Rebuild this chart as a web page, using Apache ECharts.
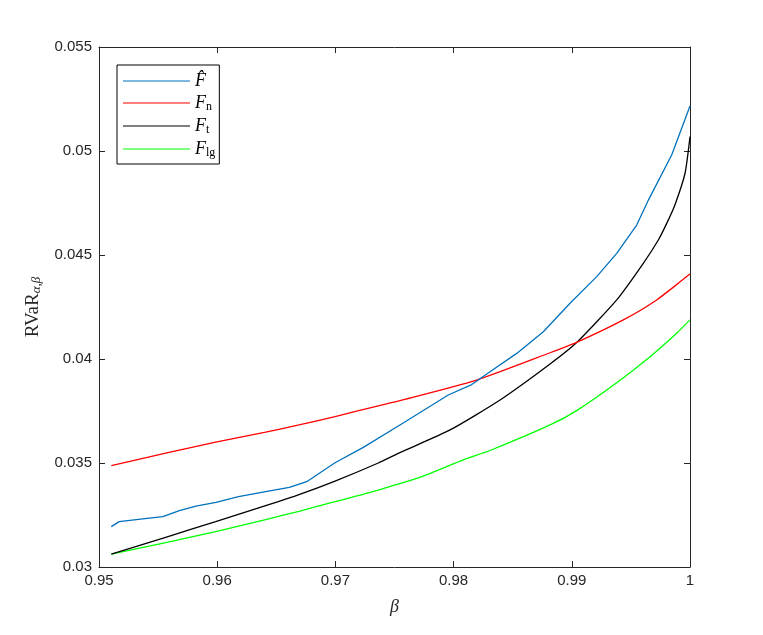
<!DOCTYPE html>
<html>
<head>
<meta charset="utf-8">
<script src="https://cdn.jsdelivr.net/npm/echarts@6/dist/echarts.min.js"></script>
<style>html,body{margin:0;padding:0;background:#fff;}#c{width:763px;height:635px;}</style>
</head>
<body>
<div id="c"></div>
<script>
var seriesNames = ['Fhat', 'Fn', 'Ft', 'Flg'];
var xTicks = [0.95, 0.96, 0.97, 0.98, 0.99, 1];
var yTicks = [0.03, 0.035, 0.04, 0.045, 0.05, 0.055];

var fHat = [
  [0.95104,0.03194],[0.9517,0.03218],[0.9537,0.03231],[0.9554,0.03242],[0.9568,0.03271],
  [0.9582,0.03293],[0.9599,0.03311],[0.9618,0.03338],[0.9641,0.03362],[0.9661,0.03383],
  [0.96757,0.0341],[0.96997,0.03501],[0.97236,0.03575],[0.97546,0.03683],[0.97955,0.03827],
  [0.98153,0.03877],[0.98308,0.03939],[0.98534,0.04027],[0.98759,0.04131],
  [0.98985,0.04268],[0.99211,0.04396],[0.9938,0.04508],[0.99549,0.04644],[0.99648,0.04764],
  [0.99845,0.04981],[1.0,0.05216]
];
var fN = [
  [0.95104,0.03487],[0.95564,0.03548],[0.95987,0.036],[0.9641,0.03648],[0.96692,0.03683],
  [0.96997,0.03723],[0.97363,0.03775],[0.97546,0.038],[0.98181,0.03896],[0.98816,0.0403],
  [0.99041,0.0408],[0.99436,0.04188],[0.99718,0.04284],[1.0,0.04409]
];
var fT = [
  [0.95104,0.03062],[0.95564,0.03143],[0.95987,0.03218],[0.9641,0.03295],[0.96692,0.03348],
  [0.96997,0.03413],[0.97363,0.035],[0.97546,0.0355],[0.9797,0.03659],[0.98393,0.03803],
  [0.98816,0.03976],[0.99041,0.04079],[0.9938,0.04284],[0.99605,0.0446],[0.99732,0.04572],
  [0.99803,0.04652],[0.99873,0.04742],[0.99958,0.04893],[1.0,0.05069]
];
var fLg = [
  [0.95104,0.03062],[0.95564,0.03117],[0.95987,0.0317],[0.9641,0.03228],[0.96692,0.03268],
  [0.96997,0.03314],[0.97363,0.0337],[0.9773,0.03434],[0.98082,0.03515],[0.98308,0.0356],
  [0.98816,0.03683],[0.99041,0.03752],[0.9938,0.03886],[0.99662,0.04011],[0.99887,0.04124],
  [1.0,0.04188]
];

var colors = ['#0072BD', '#FF0000', '#000000', '#00FF00'];
var dataSets = [fHat, fN, fT, fLg];
var smoothFlags = [false, 0.2, 0.2, 0.2];

var legendLabels = {
  Fhat: '{i|F\u0302}',
  Fn: '{i|F}{s|n}',
  Ft: '{i|F}{s|t}',
  Flg: '{i|F}{s|lg}'
};

function fmt(v) { return String(parseFloat(v.toFixed(4))); }

var axisColor = '#262626';
var serif = '"Liberation Serif", "DejaVu Serif", serif';
var sans = '"Liberation Sans", Arial, Helvetica, sans-serif';

var chart = echarts.init(document.getElementById('c'), null, {renderer: 'canvas'});
var option = {
  animation: false,
  backgroundColor: '#ffffff',
  grid: {left: 99, right: 73, top: 47, bottom: 68, containLabel: false},
  legend: {
    data: seriesNames,
    orient: 'vertical',
    left: 117, top: 65,
    padding: [7, 4, 5, 6],
    itemGap: 4,
    itemWidth: 67, itemHeight: 19,
    backgroundColor: '#ffffff',
    borderColor: '#000000',
    borderWidth: 1,
    borderRadius: 0,
    icon: 'path://M0,9 L67,9 L67,10 L0,10 Z',
    formatter: function (n) { return legendLabels[n]; },
    textStyle: {
      color: '#000',
      rich: {
        i: {fontFamily: serif, fontStyle: 'italic', fontSize: 18, color: '#000'},
        s: {fontFamily: serif, fontSize: 12, color: '#000', verticalAlign: 'bottom', padding: [8, 0, 0, 0]}
      }
    }
  },
  xAxis: [{
    type: 'value', min: 0.95, max: 1, interval: 0.01, position: 'bottom',
    name: '{b|\u03B2}', nameLocation: 'middle', nameGap: 31,
    nameTextStyle: {rich: {b: {fontFamily: serif, fontStyle: 'italic', fontSize: 18, color: '#262626'}}},
    axisLine: {show: true, onZero: false, lineStyle: {color: axisColor, width: 1}},
    axisTick: {show: true, inside: true, length: 6, lineStyle: {color: axisColor}},
    axisLabel: {color: axisColor, fontFamily: sans, fontSize: 15, margin: 6,
      formatter: function (v) { return fmt(v); }},
    splitLine: {show: false}
  }, {
    type: 'value', min: 0.95, max: 1, interval: 0.01, position: 'top',
    axisLine: {show: true, onZero: false, lineStyle: {color: axisColor, width: 1}},
    axisTick: {show: true, inside: true, length: 6, lineStyle: {color: axisColor}},
    axisLabel: {show: false}, splitLine: {show: false}
  }],
  yAxis: [{
    type: 'value', min: 0.03, max: 0.055, interval: 0.005, position: 'left',
    name: '{r|RVaR}{s|\u03B1,\u03B2}', nameLocation: 'middle', nameGap: 54, nameRotate: 90,
    nameTextStyle: {rich: {
      r: {fontFamily: serif, fontSize: 19, color: '#262626'},
      s: {fontFamily: serif, fontStyle: 'italic', fontSize: 13, color: '#262626', verticalAlign: 'bottom', padding: [9, 0, 0, 0]}
    }},
    axisLine: {show: true, onZero: false, lineStyle: {color: axisColor, width: 1}},
    axisTick: {show: true, inside: true, length: 6, lineStyle: {color: axisColor}},
    axisLabel: {color: axisColor, fontFamily: sans, fontSize: 15, margin: 7,
      formatter: function (v) { return fmt(v); }},
    splitLine: {show: false}
  }, {
    type: 'value', min: 0.03, max: 0.055, interval: 0.005, position: 'right',
    axisLine: {show: true, onZero: false, lineStyle: {color: axisColor, width: 1}},
    axisTick: {show: true, inside: true, length: 6, lineStyle: {color: axisColor}},
    axisLabel: {show: false}, splitLine: {show: false}
  }],
  series: seriesNames.map(function (n, i) {
    return {
      name: n, type: 'line', data: dataSets[i],
      showSymbol: false, symbol: 'none', smooth: smoothFlags[i],
      lineStyle: {color: colors[i], width: 1.3},
      itemStyle: {color: colors[i]},
      z: 10 - i
    };
  })
};
chart.setOption(option);
</script>
</body>
</html>
